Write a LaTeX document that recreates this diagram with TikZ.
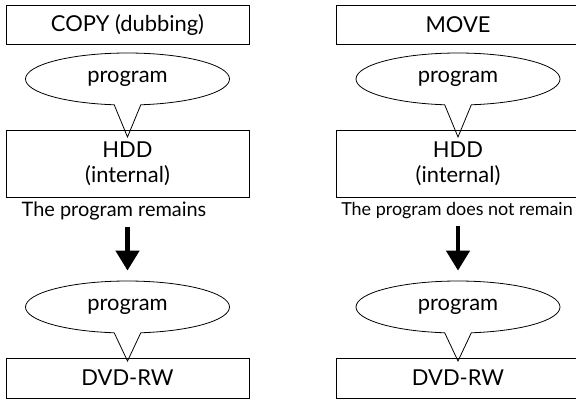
\documentclass[tikz,border=0pt]{standalone}
\usepackage{fontspec}
\setmainfont{Lato}
\usepackage{tikz}
\usetikzlibrary{shapes.callouts, arrows.meta, positioning}
\tikzstyle{unit} = [
    rectangle,
    draw=black,
    thick,
    minimum width=243bp,
    inner sep=0pt,
    align=center,
    font=\fontsize{22}{25}\selectfont
]
\tikzstyle{bubble} = [
    ellipse callout,
    draw=black,
    thick,
    minimum width=204bp,
    minimum height=52bp,
    inner sep=0pt,
    font=\fontsize{22}{25}\selectfont
]
\tikzstyle{bigarrow} = [
    line width=4.5bp,
    -{Triangle[width=23bp,length=20bp]},
    shorten <=6bp,
    shorten >=10bp
]

\begin{document}
\begin{tikzpicture}[x=1bp, y=-1bp]
        \useasboundingbox (0,0) rectangle (576,398);
        % Copy
        \node[unit, minimum height=39bp] (copy) at (127.5, 24.5) {COPY (dubbing)};
        \node[unit, minimum height=67bp] (hddL) at (127.5, 163.5) {HDD\\(internal)};
        \node[bubble, callout absolute pointer={(127.5, 137)}] (progL1) at (127.5, 79) {program};
        \node[font=\fontsize{20}{23}\selectfont, inner sep=1bp] (remainL) at (114, 211) {The program remains};
        \node[bubble, callout absolute pointer={(127.5, 361)}] (progL2) at (127.5, 307) {program};
        \node[unit, minimum height=40bp] (dvdL) at (127.5, 378) {DVD-RW};
        % Move
        \node[unit, minimum height=39bp] (move) at (458, 24.5) {MOVE};
        \node[unit, minimum height=67bp] (hddR) at (458, 163.5) {HDD\\(internal)};
        \node[bubble, callout absolute pointer={(458, 137)}] (progR1) at (458, 79) {program};
        \node[font=\fontsize{18}{21}\selectfont, inner sep=1bp] (remainR) at (457, 211) {The program does not remain};
        \node[bubble, callout absolute pointer={(458, 361)}] (progR2) at (458, 307) {program};
        \node[unit, minimum height=40bp] (dvdR) at (458, 378) {DVD-RW};

        % Arrows
        \draw[bigarrow] (remainL.south -| progL2.north) -- (progL2.north);
        \draw[bigarrow] (remainR.south -| progR2.north) -- (progR2.north);
    \end{tikzpicture}
\end{document}
